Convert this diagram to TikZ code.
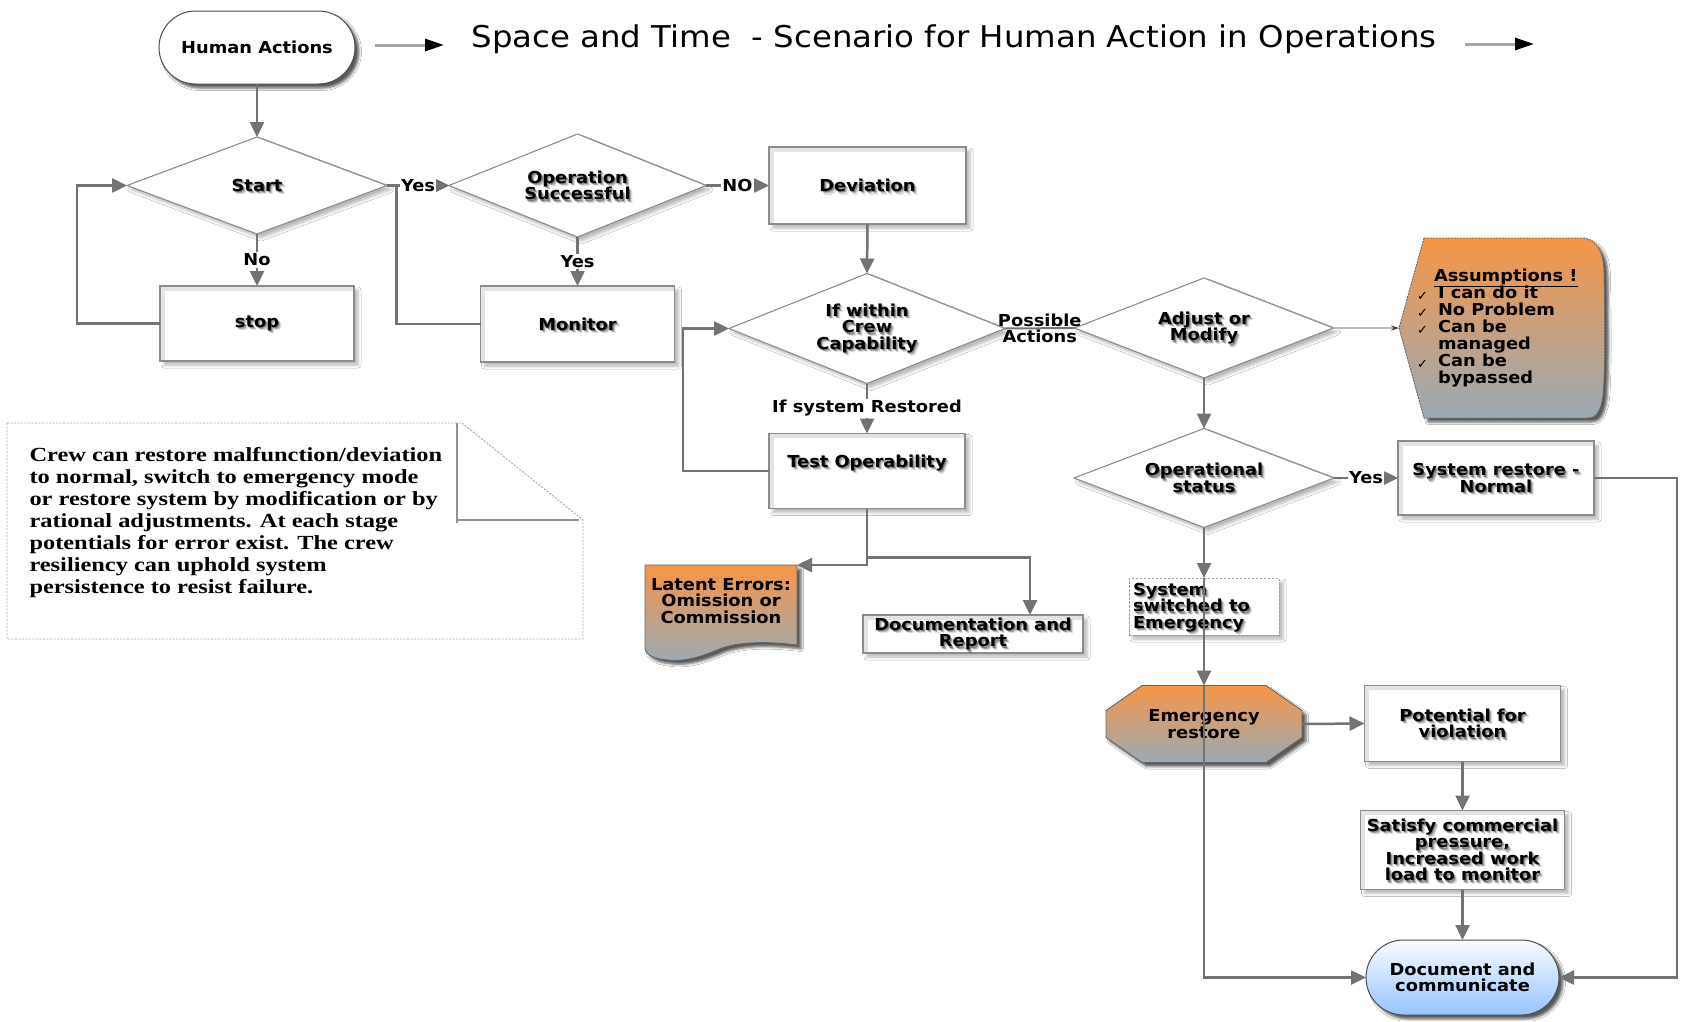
\documentclass[tikz,border=0pt]{standalone}
\usepackage{fontspec}
\setmainfont{DejaVu Sans}[FakeStretch=1.08]
\newfontfamily\notefont{Liberation Serif}[FakeStretch=1.22]
\newfontfamily\checkfont{DejaVu Sans}
\usetikzlibrary{shapes.geometric,shapes.misc,arrows.meta,shadows.blur}
\setlength{\lineskiplimit}{-50pt}

\definecolor{linegray}{RGB}{115,115,115}
\definecolor{bordergray}{RGB}{140,140,140}
\definecolor{orangetop}{RGB}{246,150,70}
\definecolor{steelbottom}{RGB}{155,170,182}
\definecolor{bluetop}{RGB}{250,252,255}
\definecolor{bluebottom}{RGB}{150,195,255}

\tikzset{
  every node/.style={inner sep=0pt, outer sep=0pt},
  flowtext/.style={font=\bfseries\fontsize{16.5}{16.5}\selectfont, align=center, text=black},
  edgelabel/.style={font=\bfseries\fontsize{16.5}{16.5}\selectfont, align=center, text=black, fill=white, inner sep=1.5pt},
  titletext/.style={font=\fontsize{30}{30}\selectfont, text=black},
  notetext/.style={font=\notefont\bfseries\fontsize{20}{22}\selectfont, align=left, text=black},
  softshadow/.style={blur shadow={shadow xshift=4pt, shadow yshift=-4pt, shadow blur radius=3pt, shadow opacity=28}},
  darkshadow/.style={blur shadow={shadow xshift=4pt, shadow yshift=-4pt, shadow blur radius=2.5pt, shadow opacity=65}},
  stepbox/.style={rectangle, draw=bordergray, line width=1.6pt, fill=white, softshadow},
  insetband/.style={draw=gray!22, line width=4pt},
  dashbox/.style={rectangle, draw=gray!75, line width=0.9pt, dash pattern=on 2.5pt off 1.5pt, fill=white, softshadow},
  decision/.style={diamond, draw=bordergray, line width=1.1pt, fill=white, softshadow},
  terminal/.style={rounded rectangle, draw=black!70, line width=1pt, darkshadow},
  orangeshape/.style={draw=gray!80!black, line width=0.9pt, top color=orangetop, bottom color=steelbottom, darkshadow},
  notebox/.style={draw=gray!70, line width=0.9pt, dash pattern=on 2pt off 1.5pt, fill=white},
  foldline/.style={draw=gray!85, line width=1.6pt},
  flow/.style={draw=linegray, line width=2.5pt, -{Triangle[length=15pt,width=14pt]}},
  plainflow/.style={draw=linegray, line width=2pt},
  pointer/.style={draw=gray!55, line width=1.8pt, -{Stealth[length=8pt,width=5pt,color=black!75]}},
  titlearrow/.style={draw=gray!70, line width=3pt, -{Triangle[length=19pt,width=12pt,color=black]}}
}

% process box with a light inner bevel along its left and top edges
\newcommand\stepnode[4]{%
  \node[stepbox, minimum width=#3, minimum height=#4] (#1) at (#2) {};
  \draw[insetband] ([shift={(2.8,-1)}]#1.south west) |- ([shift={(-1,2.8)}]#1.north east);}

% bold label with a soft drop shadow behind the letters
\newcommand\softlabel[4][]{%
  \foreach \dx/\dy/\op [count=\k] in {1.0/1.3/0.34, 2.0/2.3/0.22, 3.2/3.4/0.12}{%
    \node[flowtext,#1,text opacity=\op] (#2-sh\k) at ([shift={(\dx,\dy)}]#3) {#4};}%
  \node[flowtext,#1] (#2-txt) at (#3) {#4};}

\newcommand\asmcheck{\makebox[22pt][l]{\hspace{1pt}\checkfont\mdseries\fontsize{13}{13}\selectfont\raisebox{-1.5pt}{✓}}}

\begin{document}
\begin{tikzpicture}[x=1pt, y=-1pt]
\useasboundingbox (0,0) rectangle (1686,1021);
\fill[white] (0,0) rectangle (1686,1021);

% heading
\node[titletext, anchor=base] (title) at (954,47) {Space and Time\ \ - Scenario for Human Action in Operations};
\coordinate (tarrowA) at (375,45);
\coordinate (tarrowB) at (444,45);
\coordinate (tarrowC) at (1465,44);
\coordinate (tarrowD) at (1534,44);

% explanatory note with folded corner
\path[notebox] (7,423) -- (462,423) -- (583,520) -- (583,639) -- (7,639) -- cycle;
\draw[foldline] (457,423) -- (457,523) (457,520) -- (579,520);
\node[notetext, anchor=north west] (note) at (29.5,447) {Crew can restore malfunction/deviation\\to normal, switch to emergency mode\\or restore system by modification or by\\rational adjustments. At each stage\\potentials for error exist. The crew\\resiliency can uphold system\\persistence to resist failure.};

% flow shapes
\node[terminal, fill=white, minimum width=196, minimum height=73] (human) at (257,47.5) {};
\node[decision, minimum width=260, minimum height=97] (start) at (257,185.5) {};
\node[decision, minimum width=257, minimum height=103] (opsucc) at (577.5,185.5) {};
\stepnode{dev}{867.5,185.5}{197}{77}
\stepnode{stop}{257,323.5}{194}{75}
\stepnode{mon}{577.5,324}{194}{76}
\node[decision, minimum width=276, minimum height=110] (crew) at (867,328.5) {};
\node[decision, minimum width=259, minimum height=100] (adj) at (1204,328) {};
\node[minimum width=206, minimum height=180] (asm) at (1502,328) {};
\path[orangeshape, dash pattern=on 2pt off 1pt] (1424,238) -- (1584,238)
  .. controls (1596,240) and (1604,250) .. (1604,275)
  .. controls (1605,330) and (1605,370) .. (1603,395)
  .. controls (1601,410) and (1597,418) .. (1588,418)
  -- (1424,418) -- (asm.west) -- cycle;
\node[decision, minimum width=260, minimum height=99] (ops) at (1204,478) {};
\stepnode{sysn}{1496,478}{196}{74}
\stepnode{test}{867,471}{196}{75}
\node[minimum width=152, minimum height=93] (lat) at (721,611.5) {};
\path[orangeshape] (lat.north west) -- (lat.north east) -- (797,645)
  .. controls (765,641) and (740,642) .. (722,648)
  .. controls (705,655) and (688,662) .. (668,660)
  .. controls (655,659) and (645,655) .. (645,648) -- cycle;
\stepnode{docr}{973,634}{220}{38}
\node[dashbox, minimum width=150, minimum height=57] (sw) at (1204,606.5) {};
\node[minimum width=196, minimum height=77] (emr) at (1204,724) {};
\path[orangeshape] ([xshift=36pt]emr.north west) -- ([xshift=-36pt]emr.north east)
  -- ([yshift=-25pt]emr.north east) -- ([yshift=25pt]emr.south east)
  -- ([xshift=-36pt]emr.south east) -- ([xshift=36pt]emr.south west)
  -- ([yshift=25pt]emr.south west) -- ([yshift=-25pt]emr.north west) -- cycle;
\stepnode{pot}{1462.5,723.5}{196}{76}
\stepnode{sat}{1462.5,850}{204}{79}
\node[terminal, top color=bluetop, bottom color=bluebottom, minimum width=193, minimum height=75] (docc) at (1462.5,977.5) {};

% texts
\node[flowtext] (human-txt) at (human.center) {Human Actions};
\softlabel{start}{start.center}{Start}
\softlabel{opsucc}{opsucc.center}{Operation\\Successful}
\softlabel{dev}{dev.center}{Deviation}
\softlabel{stop}{stop.center}{stop}
\softlabel{mon}{mon.center}{Monitor}
\softlabel{crew}{crew.center}{If within\\Crew\\Capability}
\softlabel{adj}{adj.center}{Adjust or\\Modify}
\softlabel{ops}{ops.center}{Operational\\status}
\softlabel{sysn}{sysn.center}{System restore -\\Normal}
\softlabel[yshift=8pt]{test}{test.center}{Test Operability}
\softlabel{docr}{docr.center}{Documentation and\\Report}
\softlabel[anchor=north west, align=left]{sw}{1133,583}{System\\switched to\\Emergency}
\softlabel{pot}{pot.center}{Potential for\\violation}
\softlabel{sat}{sat.center}{Satisfy commercial\\pressure,\\Increased work\\load to monitor}
\node[flowtext] (lat-txt) at (721,601) {Latent Errors:\\Omission or\\Commission};
\node[flowtext] (emr-txt) at (emr.center) {Emergency\\restore};
\node[flowtext] (docc-txt) at (docc.center) {Document and\\communicate};
\node[flowtext, font=\bfseries\fontsize{16.5}{17}\selectfont, anchor=north west, align=left] (asm-txt) at (1416,269) {%
  \hspace*{18pt}\underline{Assumptions !}\\
  \asmcheck I can do it\\
  \asmcheck No Problem\\
  \asmcheck Can be\\
  \hspace*{22pt}managed\\
  \asmcheck Can be\\
  \hspace*{22pt}bypassed};

% connectors
\draw[titlearrow] (tarrowA) -- (tarrowB);
\draw[titlearrow] (tarrowC) -- (tarrowD);
\draw[flow] (human.south) -- (start.north);
\draw[flow] (stop.west) -- ++(-83,0) |- (start.west);
\draw[flow] (mon.west) -- ++(-84,0) |- (opsucc.west);
\draw[flow] (start.east) -- node[edgelabel] (lbl-yes1) {Yes} (opsucc.west);
\draw[flow] (start.south) -- node[edgelabel] (lbl-no) {No} (stop.north);
\draw[flow] (opsucc.east) -- node[edgelabel] (lbl-NO) {NO} (dev.west);
\draw[flow] (opsucc.south) -- node[edgelabel] (lbl-yes2) {Yes} (mon.north);
\draw[flow] (dev.south) -- (crew.north);
\draw[plainflow] (crew.east) -- node[edgelabel, fill=none] (lbl-pa) {Possible\\Actions} (adj.west);
\draw[pointer] (adj.east) -- (asm.west);
\draw[flow] (crew.south) -- node[edgelabel] (lbl-isr) {If system Restored} (test.north);
\draw[flow] (test.west) -- ++(-86,0) |- (crew.west);
\draw[flow] (test.south) |- (lat.north east);
\draw[flow] (test.south) -- ++(0,49) -| ([xshift=57pt]docr.north);
\draw[flow] (adj.south) -- (ops.north);
\draw[flow] (ops.east) -- node[edgelabel] (lbl-yes3) {Yes} (sysn.west);
\draw[flow] (ops.south) -- (sw.north);
\draw[flow] (sw.north) -- (emr.north);
\draw[flow] (emr.north) |- (docc.west);
\draw[flow] (emr.east) -- (pot.west);
\draw[flow] (pot.south) -- (sat.north);
\draw[flow] (sat.south) -- (docc.north);
\draw[flow] (sysn.east) -- ++(83,0) |- (docc.east);
\end{tikzpicture}
\end{document}
